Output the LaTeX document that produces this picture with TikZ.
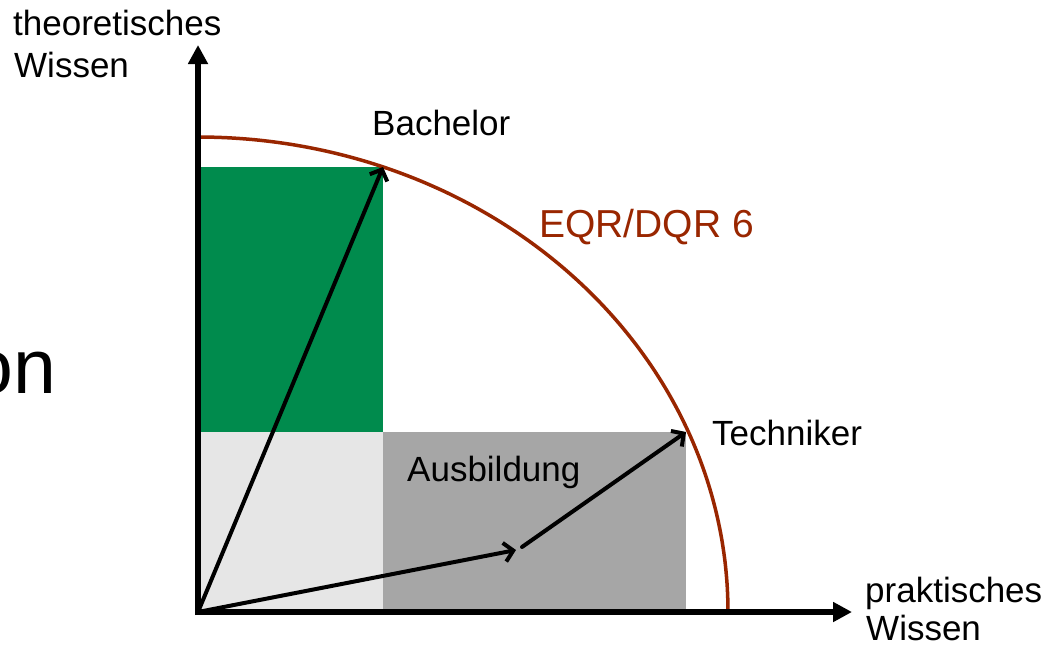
\documentclass[tikz,border=0pt]{standalone}
\usepackage{fontspec}
\setmainfont{Liberation Sans}
\usetikzlibrary{arrows.meta}
\definecolor{qgreen}{RGB}{0,139,77}
\definecolor{qred}{RGB}{153,38,0}
\definecolor{lgray}{RGB}{230,230,230}
\definecolor{dgray}{RGB}{166,166,166}
\begin{document}
\begin{tikzpicture}[x=1pt,y=-1pt,
  lbl/.style={inner sep=0pt, anchor=base west, font=\fontsize{35}{40}\selectfont},
  axisline/.style={line width=6pt, -{Triangle[length=19pt,width=19pt]}},
  vec/.style={line width=4pt, -{Straight Barb[length=9pt,width=19pt]}, line cap=round}]
\clip (0,0) rectangle (1046,648);
\fill[white] (0,0) rectangle (1046,648);
% areas
\fill[qgreen] (200,167) rectangle (383,432);
\fill[lgray] (200,432) rectangle (383,612);
\fill[dgray] (383,432) rectangle (686,612);
% frontier
\draw[qred, line width=3.5pt] plot[domain=0:90, samples=120, smooth] ({198+530*cos(\x)},{612-475*sin(\x)});
% points
\coordinate (O) at (198,612);
\coordinate (Oy) at (198,615);
\coordinate (Ox) at (195,612);
\coordinate (Ytip) at (198,45);
\coordinate (Xtip) at (852,612);
\coordinate (B) at (383,167);
\coordinate (M) at (516,550);
\coordinate (M2) at (522,547);
\coordinate (T) at (686,432);
% axes
\draw[axisline] (Oy) -- (Ytip);
\draw[axisline] (Ox) -- (Xtip);
% vectors
\draw[vec] (O) -- (B);
\draw[vec] (O) -- (M);
\draw[vec] (M2) -- (T);
% labels
\node[lbl] (ty1) at (13,35) {theoretisches};
\node[lbl] (ty2) at (14,77) {Wissen};
\node[lbl] (bach) at (372,135) {Bachelor};
\node[lbl, text=qred, font=\fontsize{39}{44}\selectfont] (eqr) at (539,237) {EQR/DQR 6};
\node[lbl] (tech) at (712,445) {Techniker};
\node[lbl] (ausb) at (407,481) {Ausbildung};
\node[lbl] (px1) at (865,602) {praktisches};
\node[lbl] (px2) at (866,640) {Wissen};
\node[lbl, font=\fontsize{77}{90}\selectfont] (on) at (-30,393) {on};
\end{tikzpicture}
\end{document}
